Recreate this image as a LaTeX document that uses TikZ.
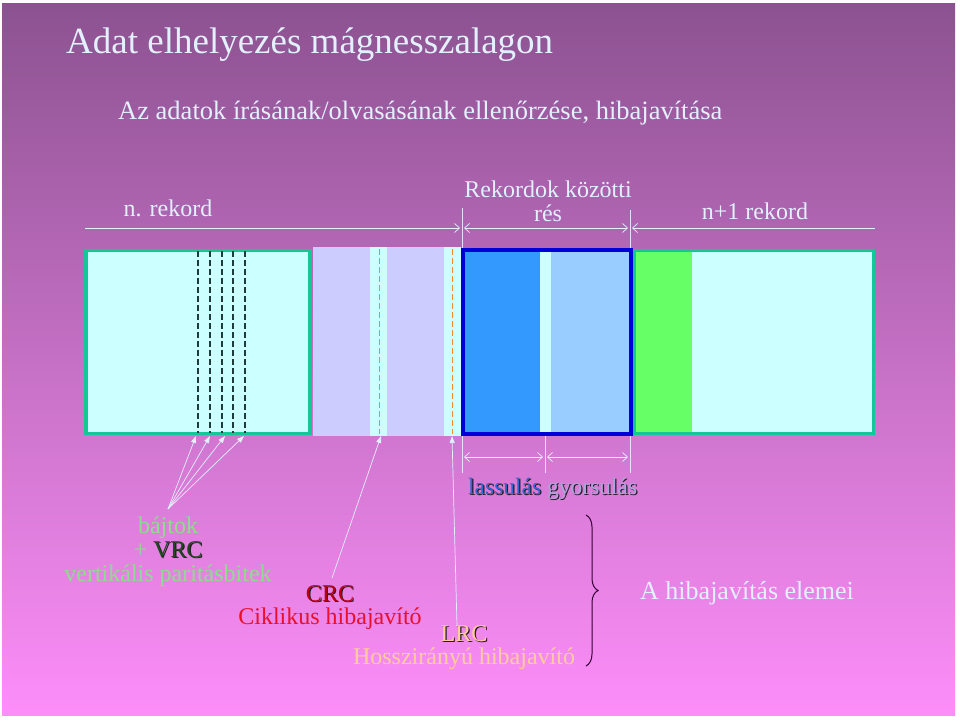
\documentclass[tikz,border=0pt]{standalone}
\usepackage{fontspec}
\setmainfont{Liberation Serif}
\usetikzlibrary{arrows.meta,positioning,decorations.pathreplacing}
\definecolor{bgtop}{HTML}{8C5290}
\definecolor{bgbot}{HTML}{FD8EF9}
\definecolor{pale}{HTML}{E2F0FF}
\definecolor{tapecyan}{HTML}{CCFFFF}
\definecolor{lavender}{HTML}{CCCCFF}
\definecolor{teal}{HTML}{14C896}
\definecolor{deepblue}{HTML}{0000D8}
\definecolor{midblue}{HTML}{3399FF}
\definecolor{skyblue}{HTML}{99CCFF}
\definecolor{brightgreen}{HTML}{66FF66}
\definecolor{bytegreen}{HTML}{8FDC8F}
\definecolor{vrcgreen}{HTML}{1E4A1E}
\definecolor{crcred}{HTML}{B80012}
\definecolor{redtext}{HTML}{E8102A}
\definecolor{peach}{HTML}{FFCC9E}
\definecolor{slowblue}{HTML}{3366CC}
\definecolor{fastgray}{HTML}{A8A8D8}
\definecolor{shadowcol}{HTML}{2A1A2A}
\definecolor{bracecol}{HTML}{330033}
\definecolor{orangedash}{HTML}{F08A30}
\definecolor{darkdash}{HTML}{1E3A3A}
% text with a small drop shadow
\newcommand{\shtext}[2]{\makebox[0pt][l]{\hspace{1.2pt}\raisebox{-1.2pt}{\textcolor{shadowcol}{#2}}}\textcolor{#1}{#2}}
\tikzset{
  txt/.style={inner sep=0pt, anchor=base, text=pale, font=\fontsize{24}{24}\selectfont, align=center},
  dimline/.style={draw=pale, line width=0.7pt},
  tickline/.style={draw=pale!85!bgbot, line width=0.6pt},
  pointer/.style={-{Triangle[length=7pt,width=5pt]}, draw=pale, line width=0.7pt},
  recbox/.style={draw=teal, line width=3.5pt},
  gapbox/.style={draw=deepblue, line width=4pt},
  bytemark/.style={draw=darkdash, dash pattern=on 6pt off 3pt, line width=1.4pt},
  crcmark/.style={draw=orangedash, dash pattern=on 6pt off 3pt, line width=1pt}
}
\begin{document}
\begin{tikzpicture}[x=1pt,y=-1pt]
  \useasboundingbox (0,0) rectangle (960,720);
  \fill[white] (0,0) rectangle (960,720);
  \shade[top color=bgtop, bottom color=bgbot] (2,3) rectangle (955,715);

  % headings
  \node[txt, anchor=base west, font=\fontsize{37}{37}\selectfont] (title) at (66,53) {Adat elhelyezés mágnesszalagon};
  \node[txt, anchor=base west, font=\fontsize{26.5}{26.5}\selectfont] (subtitle) at (118,119) {Az adatok írásának/olvasásának ellenőrzése, hibajavítása};

  % record labels and dimension lines
  \node[txt] (recn) at (168,216) {n. rekord};
  \node[txt] (gaplbl) at (548,221) {Rekordok közötti\\rés};
  \node[txt] (recn1) at (755,219) {n+1 rekord};
  \coordinate (d0) at (85,228);
  \coordinate (d1) at (460,228);
  \coordinate (d2) at (464,228);
  \coordinate (d3) at (628,228);
  \coordinate (d4) at (632,228);
  \coordinate (d5) at (875,228);
  \draw[dimline, -{Straight Barb[length=5pt,width=9pt]}] (d0) -- (d1);
  \draw[dimline, {Straight Barb[length=5pt,width=9pt]}-{Straight Barb[length=5pt,width=9pt]}] (d2) -- (d3);
  \draw[dimline, {Straight Barb[length=5pt,width=9pt]}-] (d4) -- (d5);
  \draw[tickline] (462,208) -- (462,248);
  \draw[tickline] (630,210) -- (630,248);

  % the tape
  \fill[tapecyan] (86,250.5) rectangle (310,433.5);
  \draw[recbox] (86,250.5) rectangle (310,433.5);
  \foreach \bx in {198,210,222,233,245}
    \draw[bytemark] (\bx,251) -- (\bx,433);
  \fill[tapecyan] (312.5,247) rectangle (461,435.5);
  \fill[lavender] (312.5,247) rectangle (370,435.5);
  \fill[lavender] (387,247) rectangle (444,435.5);
  \draw[crcmark] (379,249) -- (379,434);
  \draw[crcmark] (452.5,249) -- (452.5,434);
  \fill[midblue] (463,250) rectangle (540,434);
  \fill[tapecyan] (540,250) rectangle (551,434);
  \fill[skyblue] (551,250) rectangle (631,434);
  \draw[gapbox] (463,250) rectangle (631,433.8);
  \fill[tapecyan] (634.5,250.5) rectangle (873.3,433.5);
  \fill[brightgreen] (634.5,250.5) rectangle (692,433.5);
  \draw[recbox] (634.5,250.5) rectangle (873.3,433.5);

  % slowing down / speeding up
  \draw[tickline] (462,436) -- (462,473);
  \draw[tickline] (545,436) -- (545,473);
  \draw[tickline] (630,436) -- (630,473);
  \coordinate (s0) at (464,457);
  \coordinate (s1) at (543,457);
  \coordinate (s2) at (547,457);
  \coordinate (s3) at (628,457);
  \draw[dimline, {Straight Barb[length=5pt,width=9pt]}-{Straight Barb[length=5pt,width=9pt]}] (s0) -- (s1);
  \draw[dimline, {Straight Barb[length=5pt,width=9pt]}-{Straight Barb[length=5pt,width=9pt]}] (s2) -- (s3);
  \node[txt, anchor=base west, font=\fontsize{23.5}{24}\selectfont] (speed) at (468,494) {\shtext{slowblue}{lassulás} \shtext{fastgray}{gyorsulás}};

  % error check labels
  \node[txt, text=bytegreen] (bytes) at (168,581) {bájtok\\+ \shtext{vrcgreen}{VRC}\\vertikális paritásbitek};
  \node[txt, text=redtext, font=\fontsize{24}{23}\selectfont] (crc) at (330,624) {\shtext{crcred}{CRC}\\Ciklikus hibajavító};
  \node[txt, text=peach, font=\fontsize{24}{22.5}\selectfont] (lrc) at (464,664) {\shtext{peach}{LRC}\\Hosszirányú hibajavító};
  \node[txt, anchor=base west, font=\fontsize{26}{26}\selectfont] (elements) at (640,599) {A hibajavítás elemei};

  \coordinate (bytesrc) at (168,509);
  \foreach \i/\bx in {1/196,2/210,3/225,4/244}
    \coordinate (byte\i) at (\bx,436);
  \foreach \i in {1,...,4}
    \draw[pointer] (bytesrc) -- (byte\i);
  \coordinate (crcsrc) at (332,578);
  \coordinate (crcend) at (381,436);
  \draw[pointer] (crcsrc) -- (crcend);
  \coordinate (lrcsrc) at (457,626);
  \coordinate (lrcend) at (452,436);
  \draw[pointer] (lrcsrc) -- (lrcend);

  \coordinate (brtop) at (586,515);
  \coordinate (brbot) at (586,666);
  \draw[bracecol, line width=1pt, decorate, decoration={brace, amplitude=12pt}] (brtop) -- (brbot);
\end{tikzpicture}
\end{document}
